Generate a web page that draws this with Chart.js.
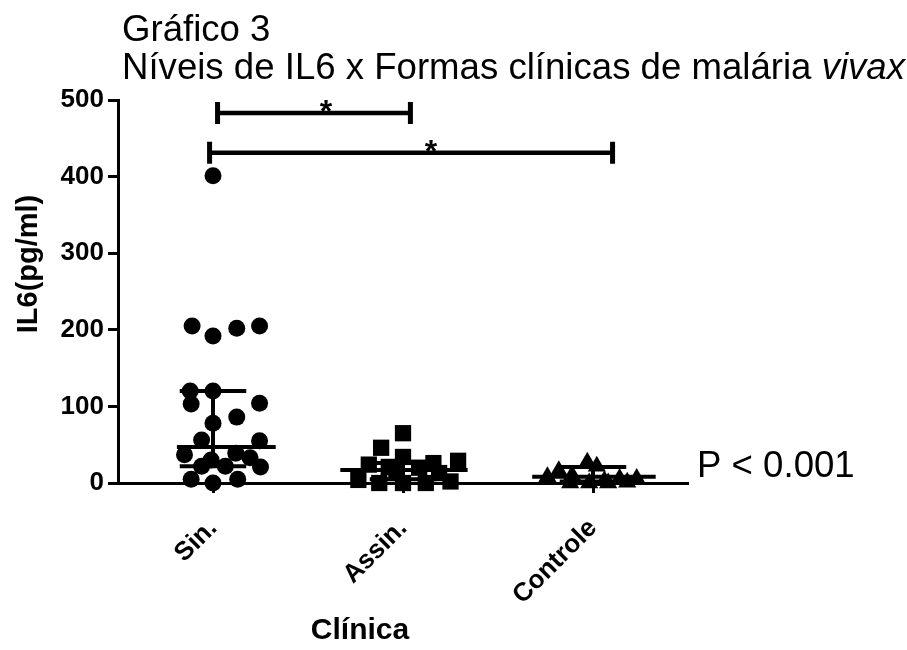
<!DOCTYPE html>
<html>
<head>
<meta charset="utf-8">
<script src="https://cdn.jsdelivr.net/npm/chart.js@4/dist/chart.umd.min.js"></script>
<style>
  html, body { margin: 0; padding: 0; background: #fff; }
  #wrap { width: 907px; height: 650px; }
</style>
</head>
<body>
<div id="wrap"><canvas id="chart" width="907" height="650"></canvas></div>
<script>
// IL-6 levels (pg/ml) by clinical form of vivax malaria
const categories = ['Sin.', 'Assin.', 'Controle'];

const sinValues    = [401, 205, 192, 202, 205, 120, 120, 103, 104, 86, 78, 56, 55, 37, 30, 39, 33, 22, 22, 21, 5, 0, 5];
const assinValues  = [65, 46, 34, 29, 26, 24, 21, 20, 14, 13, 4, 0, 0, 0, 2];
const controleValues = [27, 22, 16, 10, 8, 6, 6, 3, 0, 0, 0, 1];

// horizontal scatter of each dot inside its column (in column widths)
const sinSpread      = [0, -0.11, 0, 0.125, 0.245, -0.12, 0, -0.115, 0.245, 0.125, 0, -0.06, 0.245, -0.15, -0.01, 0.12, 0.195, -0.06, 0.065, 0.25, -0.115, 0, 0.13];
const assinSpread    = [0, -0.115, 0, 0.29, 0.16, -0.18, -0.075, 0.085, -0.035, 0.19, -0.235, -0.125, 0, 0.12, 0.25];
const controleSpread = [-0.03, 0.02, -0.18, -0.11, -0.24, 0.14, 0.23, 0.06, -0.12, -0.02, 0.08, 0.18];

// median and interquartile range per group
const medians        = [47, 17, 8];
const lowerQuartiles = [22, 5, 2];
const upperQuartiles = [120, 26, 21];

const yTicks = [0, 100, 200, 300, 400, 500];

// significance brackets: group pair, height (pg/ml), mark
const bracketFrom  = [0, 0];
const bracketTo    = [1, 2];
const bracketLevel = [483, 431];
const bracketMark  = ['*', '*'];

const pValueText = 'P < 0.001';

const FONT = "'Liberation Sans', Arial, Helvetica, sans-serif";

function groupPoints(values, spread, index) {
  return values.map((v, i) => ({ x: index + 0.5 + spread[i], y: v }));
}

function stretchedText(ctx, text, x, y, font, sx, align) {
  ctx.save();
  ctx.font = font;
  ctx.textAlign = align || 'left';
  ctx.textBaseline = 'alphabetic';
  ctx.translate(x, y);
  ctx.scale(sx, 1);
  ctx.fillText(text, 0, 0);
  ctx.restore();
}

// medians, IQR bars, comparison brackets and free text
const annotations = {
  id: 'annotations',
  beforeDatasetsDraw(chart) {
    const ctx = chart.ctx;
    const xs = chart.scales.x, ys = chart.scales.y;
    const medianLeft  = [-0.19, -0.33, -0.32];
    const medianRight = [0.33, 0.34, 0.33];
    const capHalf = 0.175;
    ctx.save();
    ctx.strokeStyle = '#000';
    ctx.lineCap = 'butt';
    medians.forEach((m, i) => {
      const c = i + 0.5;
      ctx.lineWidth = 4;
      ctx.beginPath();
      ctx.moveTo(xs.getPixelForValue(c + medianLeft[i]), ys.getPixelForValue(m));
      ctx.lineTo(xs.getPixelForValue(c + medianRight[i]), ys.getPixelForValue(m));
      ctx.stroke();
      const cx = xs.getPixelForValue(c);
      const top = ys.getPixelForValue(upperQuartiles[i]);
      const bot = ys.getPixelForValue(lowerQuartiles[i]);
      ctx.beginPath();
      ctx.moveTo(cx, top);
      ctx.lineTo(cx, bot);
      ctx.stroke();
      [top, bot].forEach(py => {
        ctx.beginPath();
        ctx.moveTo(xs.getPixelForValue(c - capHalf), py);
        ctx.lineTo(xs.getPixelForValue(c + capHalf), py);
        ctx.stroke();
      });
    });
    ctx.restore();
  },
  afterDraw(chart) {
    const ctx = chart.ctx;
    const xs = chart.scales.x, ys = chart.scales.y;
    ctx.save();
    ctx.fillStyle = '#000';
    ctx.strokeStyle = '#000';

    // brackets
    const endShiftL = [0.024, -0.018];
    const endShiftR = [0.039, 0.103];
    const markShift = [12, 20];
    bracketFrom.forEach((f, i) => {
      const x1 = xs.getPixelForValue(f + 0.5 + endShiftL[i]);
      const x2 = xs.getPixelForValue(bracketTo[i] + 0.5 + endShiftR[i]);
      const y = ys.getPixelForValue(bracketLevel[i]);
      ctx.lineWidth = 4.5;
      ctx.beginPath();
      ctx.moveTo(x1, y); ctx.lineTo(x2, y);
      ctx.stroke();
      ctx.lineWidth = 5;
      ctx.beginPath();
      ctx.moveTo(x1, y - 11); ctx.lineTo(x1, y + 11);
      ctx.moveTo(x2, y - 11); ctx.lineTo(x2, y + 11);
      ctx.stroke();
      ctx.font = 'bold 32px ' + FONT;
      ctx.textAlign = 'center';
      ctx.textBaseline = 'alphabetic';
      ctx.fillText(bracketMark[i], (x1 + x2) / 2 + markShift[i], y + 9);
    });

    // title, two lines, with the species name in italics
    const size = 36;
    const plain = size + 'px ' + FONT;
    const ital = 'italic ' + size + 'px ' + FONT;
    const line2a = 'Níveis de IL6 x Formas clínicas de malária ';
    const line2b = 'vivax';
    ctx.font = plain;
    const wa = ctx.measureText(line2a).width;
    ctx.font = ital;
    const wb = ctx.measureText(line2b).width;
    const sx = 783 / (wa + wb);
    stretchedText(ctx, 'Gráfico 3', 122, 41, plain, sx);
    stretchedText(ctx, line2a, 122, 79, plain, sx);
    stretchedText(ctx, line2b, 122 + wa * sx, 79, ital, sx);

    // overall test result
    stretchedText(ctx, pValueText, 697, 477, plain, sx);

    // axis titles
    ctx.font = 'bold 30px ' + FONT;
    ctx.textAlign = 'center';
    ctx.textBaseline = 'middle';
    ctx.fillText('Clínica', 360, 631);
    ctx.translate(29, 264);
    ctx.rotate(-Math.PI / 2);
    ctx.font = 'bold 29px ' + FONT;
    ctx.fillText('IL6(pg/ml)', 0, 0);
    ctx.restore();
  }
};

const datasets = [
  { label: categories[0], data: groupPoints(sinValues, sinSpread, 0), pointStyle: 'circle', pointRadius: 8.5 },
  { label: categories[1], data: groupPoints(assinValues, assinSpread, 1), pointStyle: 'rect', pointRadius: 11.5 },
  { label: categories[2], data: groupPoints(controleValues, controleSpread, 2), pointStyle: 'triangle', pointRadius: 10.5 }
].map(d => Object.assign(d, {
  backgroundColor: '#000', borderColor: '#000', borderWidth: 0,
  pointHoverRadius: d.pointRadius, clip: false
}));

new Chart(document.getElementById('chart'), {
  type: 'scatter',
  data: { datasets },
  options: {
    responsive: false,
    animation: false,
    devicePixelRatio: 1,
    layout: { padding: { top: 100, right: 219, left: 0, bottom: 0 } },
    plugins: { legend: { display: false }, tooltip: { enabled: false }, title: { display: false } },
    scales: {
      x: {
        type: 'linear', min: 0, max: 3,
        afterBuildTicks: s => { s.ticks = categories.map((c, i) => ({ value: i + 0.5 })); },
        afterFit: s => { s.height = 167; },
        ticks: {
          callback: v => categories[Math.round(v - 0.5)],
          font: { family: FONT, size: 26, weight: 'bold' },
          color: '#000', minRotation: 45, maxRotation: 45, padding: 20, autoSkip: false
        },
        grid: { drawOnChartArea: false, drawTicks: true, tickLength: 10, tickWidth: 3, tickColor: '#000' },
        border: { display: true, color: '#000', width: 3 }
      },
      y: {
        min: 0, max: 500,
        afterBuildTicks: s => { s.ticks = yTicks.map(v => ({ value: v })); },
        afterFit: s => { s.width = 118; },
        ticks: {
          font: { family: FONT, size: 26, weight: 'bold' },
          color: '#000', padding: 4
        },
        grid: { drawOnChartArea: false, drawTicks: true, tickLength: 10, tickWidth: 3, tickColor: '#000' },
        border: { display: true, color: '#000', width: 3 }
      }
    }
  },
  plugins: [annotations]
});
</script>
</body>
</html>
